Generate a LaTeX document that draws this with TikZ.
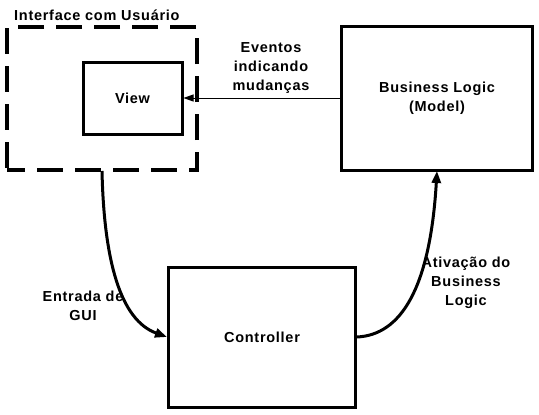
\documentclass[tikz,border=0pt]{standalone}
\usepackage{fontspec}
\setmainfont{Liberation Sans}[LetterSpace=5]
\usetikzlibrary{arrows.meta}
\begin{document}
\begin{tikzpicture}[x=1pt,y=-1pt,
  box/.style={draw,line width=3pt,rectangle,inner sep=0pt},
  lbl/.style={font=\bfseries\fontsize{14.5}{19}\selectfont,align=center,inner sep=0pt},
  dashbox/.style={draw,line width=4pt,dash pattern=on 26pt off 12pt,dash phase=8pt},
  flow/.style={line width=3pt,-{Triangle[length=12pt,width=9pt]}},
  thin/.style={line width=1pt,-{Triangle[length=10pt,width=7pt]}}]
\useasboundingbox (0,0) rectangle (539,415);
\node[dashbox,minimum width=190pt,minimum height=143pt] (ui) at (102,98.5) {};
\node[lbl,anchor=base west] (uilbl) at (14,20) {Interface com Usuário};
\node[box,minimum width=99pt,minimum height=72pt] (view) at (132.5,98) {};
\node[lbl] at (view.center) {View};
\node[box,minimum width=191pt,minimum height=144pt] (bl) at (437,98) {};
\node[lbl] at (bl.center) {Business Logic\\(Model)};
\node[box,minimum width=187pt,minimum height=140pt] (ctl) at (262,337) {};
\node[lbl] at (ctl.center) {Controller};
\draw[thin] (bl.west |- view.east) -- (view.east);
\node[lbl] (ev) at (271,68) {Eventos\\indicando\\mudanças};
\coordinate (uib) at (102,171);
\draw[flow] (uib) .. controls (104,260) and (120,320) .. (ctl.west);
\coordinate (blb) at (437,171);
\draw[flow] (ctl.east) .. controls (400,335) and (430,290) .. (blb);
\node[lbl] (gui) at (83,306) {Entrada de\\GUI};
\node[lbl] (atv) at (466,283) {Ativação do\\Business\\Logic};
\end{tikzpicture}
\end{document}
